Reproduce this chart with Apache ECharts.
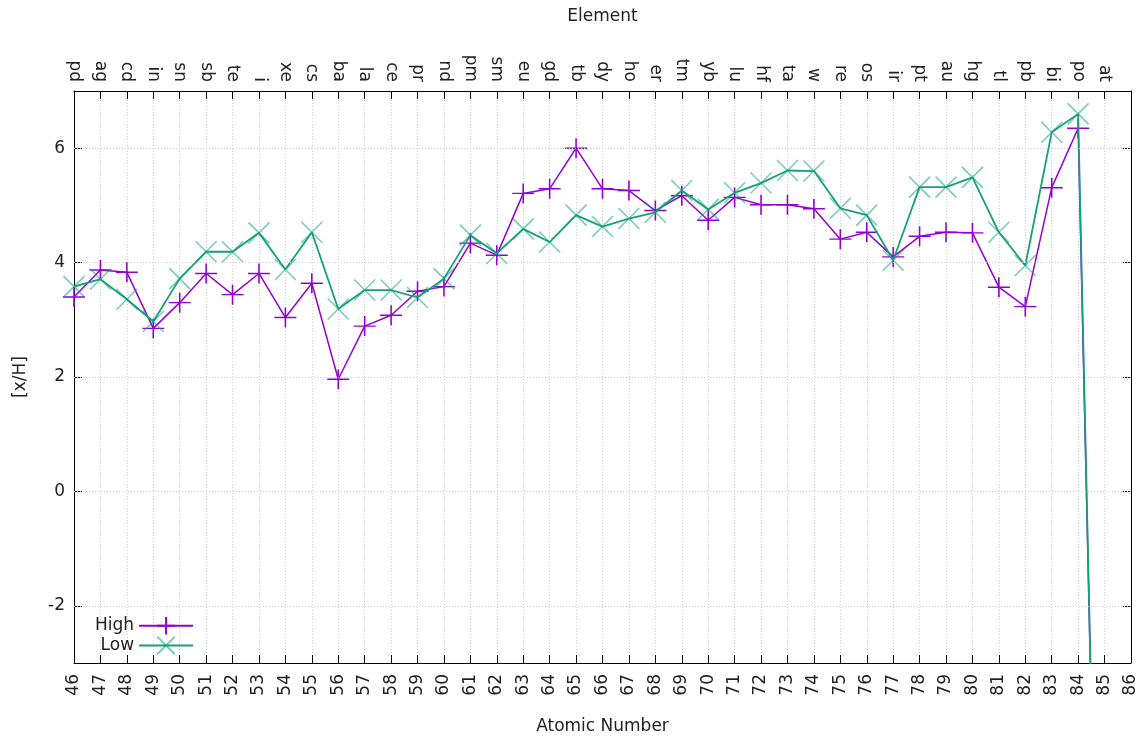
<!DOCTYPE html>
<html>
<head>
<meta charset="utf-8">
<script src="https://cdn.jsdelivr.net/npm/echarts@6/dist/echarts.min.js"></script>
<style>
  html, body { margin: 0; padding: 0; background: #fff; }
  #chart { width: 1146px; height: 741px; }
</style>
</head>
<body>
<div id="chart"></div>
<script>
// Atomic numbers of the plotted elements (46 = Pd ... 85 = At)
const atomicNumbers = [46, 47, 48, 49, 50, 51, 52, 53, 54, 55, 56, 57, 58, 59, 60,
  61, 62, 63, 64, 65, 66, 67, 68, 69, 70, 71, 72, 73, 74, 75,
  76, 77, 78, 79, 80, 81, 82, 83, 84, 85];

// Element symbols shown along the top axis
const elementNames = ['pd', 'ag', 'cd', 'in', 'sn', 'sb', 'te', 'i', 'xe', 'cs',
  'ba', 'la', 'ce', 'pr', 'nd', 'pm', 'sm', 'eu', 'gd', 'tb',
  'dy', 'ho', 'er', 'tm', 'yb', 'lu', 'hf', 'ta', 'w', 're',
  'os', 'ir', 'pt', 'au', 'hg', 'tl', 'pb', 'bi', 'po', 'at'];

// [x/H] abundances
const highValues = [3.40, 3.87, 3.83, 2.85, 3.30, 3.81, 3.44, 3.81, 3.04, 3.64,
  1.96, 2.89, 3.08, 3.50, 3.58, 4.34, 4.13, 5.21, 5.29, 6.00,
  5.29, 5.26, 4.91, 5.17, 4.74, 5.14, 5.01, 5.01, 4.94, 4.41,
  4.53, 4.10, 4.46, 4.53, 4.52, 3.57, 3.23, 5.31, 6.35, -14.0];

const lowValues = [3.58, 3.71, 3.36, 2.97, 3.72, 4.19, 4.19, 4.52, 3.88, 4.53,
  3.19, 3.52, 3.52, 3.39, 3.72, 4.48, 4.16, 4.59, 4.36, 4.83,
  4.63, 4.77, 4.88, 5.26, 4.93, 5.22, 5.39, 5.61, 5.60, 4.95,
  4.83, 4.04, 5.32, 5.32, 5.49, 4.53, 3.95, 6.28, 6.60, -14.0];

// Labelled ticks (and horizontal grid lines) on the [x/H] axis
const yTickValues = [-2, 0, 2, 4, 6];

const FONT = 'DejaVu Sans';
const TEXT = '#222';
const GRID = '#cfcfcf';
const HIGH_COLOR = '#9400d3';
const LOW_COLOR = '#14a078';
const LOW_MARK = 'rgba(10,160,118,0.55)';

const chart = echarts.init(document.getElementById('chart'), null, { renderer: 'canvas' });

const xBase = {
  type: 'value', min: 46, max: 86, interval: 1,
  axisLine: { show: true, onZero: false, lineStyle: { color: '#000', width: 1 } },
  axisTick: { show: true, inside: true, length: 8, lineStyle: { color: '#000' } },
  nameLocation: 'middle',
  nameTextStyle: { fontFamily: FONT, fontSize: 17, color: TEXT }
};

const yBase = {
  type: 'value', min: -3, max: 7, interval: 1,
  axisLine: { show: true, onZero: false, lineStyle: { color: '#000', width: 1 } },
  axisTick: { show: true, inside: true, length: 8, customValues: yTickValues, lineStyle: { color: '#000' } },
  splitLine: { show: false }
};

chart.setOption({
  animation: false,
  textStyle: { fontFamily: FONT },
  grid: { left: 74, right: 15, top: 91, bottom: 78, show: false },
  legend: {
    data: ['High', 'Low'],
    orient: 'vertical',
    left: 90, top: 611,
    align: 'right',
    itemWidth: 54, itemHeight: 22, itemGap: 0,
    textStyle: { fontFamily: FONT, fontSize: 17, color: TEXT },
    selectedMode: false
  },
  xAxis: [
    Object.assign({}, xBase, {
      position: 'bottom',
      name: 'Atomic Number', nameGap: 55,
      axisLabel: { rotate: 90, fontFamily: FONT, fontSize: 17, color: TEXT, margin: 11 },
      splitLine: { show: true, lineStyle: { type: [1, 2], color: GRID, width: 1 } }
    }),
    Object.assign({}, xBase, {
      position: 'top',
      name: 'Element', nameGap: 66,
      axisLabel: {
        rotate: 90, fontFamily: FONT, fontSize: 17, color: TEXT, margin: 9,
        formatter: v => elementNames[atomicNumbers.indexOf(v)] || ''
      },
      splitLine: { show: false }
    })
  ],
  yAxis: [
    Object.assign({}, yBase, {
      position: 'left',
      name: '[x/H]', nameLocation: 'middle', nameGap: 45, nameRotate: 90,
      nameTextStyle: { fontFamily: FONT, fontSize: 17, color: TEXT },
      axisLabel: { customValues: yTickValues, fontFamily: FONT, fontSize: 17, color: TEXT, margin: 9 }
    }),
    Object.assign({}, yBase, {
      position: 'right',
      axisLabel: { show: false }
    })
  ],
  series: [
    {
      // horizontal dotted grid at the labelled [x/H] ticks
      name: 'grid', type: 'line', xAxisIndex: 0, yAxisIndex: 0,
      data: [], z: 1, silent: true,
      markLine: {
        silent: true, symbol: 'none', label: { show: false },
        lineStyle: { type: [1, 2], color: GRID, width: 1 },
        emphasis: { disabled: true },
        data: yTickValues.map(v => ({ yAxis: v }))
      }
    },
    {
      name: 'High', type: 'line', xAxisIndex: 0, yAxisIndex: 0,
      data: atomicNumbers.map((n, i) => [n, highValues[i]]),
      symbol: 'path://M0,-10L0,10M-10,0L10,0',
      symbolSize: [22, 20],
      showAllSymbol: true,
      clip: true, z: 3,
      itemStyle: { color: HIGH_COLOR, borderColor: HIGH_COLOR, borderWidth: 1.5 },
      lineStyle: { color: HIGH_COLOR, width: 1.5 },
      emphasis: { disabled: true }
    },
    {
      name: 'Low', type: 'line', xAxisIndex: 0, yAxisIndex: 0,
      data: atomicNumbers.map((n, i) => [n, lowValues[i]]),
      symbol: 'path://M-10,-10L10,10M-10,10L10,-10',
      symbolSize: [21, 21],
      showAllSymbol: true,
      clip: true, z: 4,
      itemStyle: { color: LOW_MARK, borderColor: LOW_MARK, borderWidth: 1.5 },
      lineStyle: { color: LOW_COLOR, width: 1.8 },
      emphasis: { disabled: true }
    }
  ]
});
</script>
</body>
</html>
